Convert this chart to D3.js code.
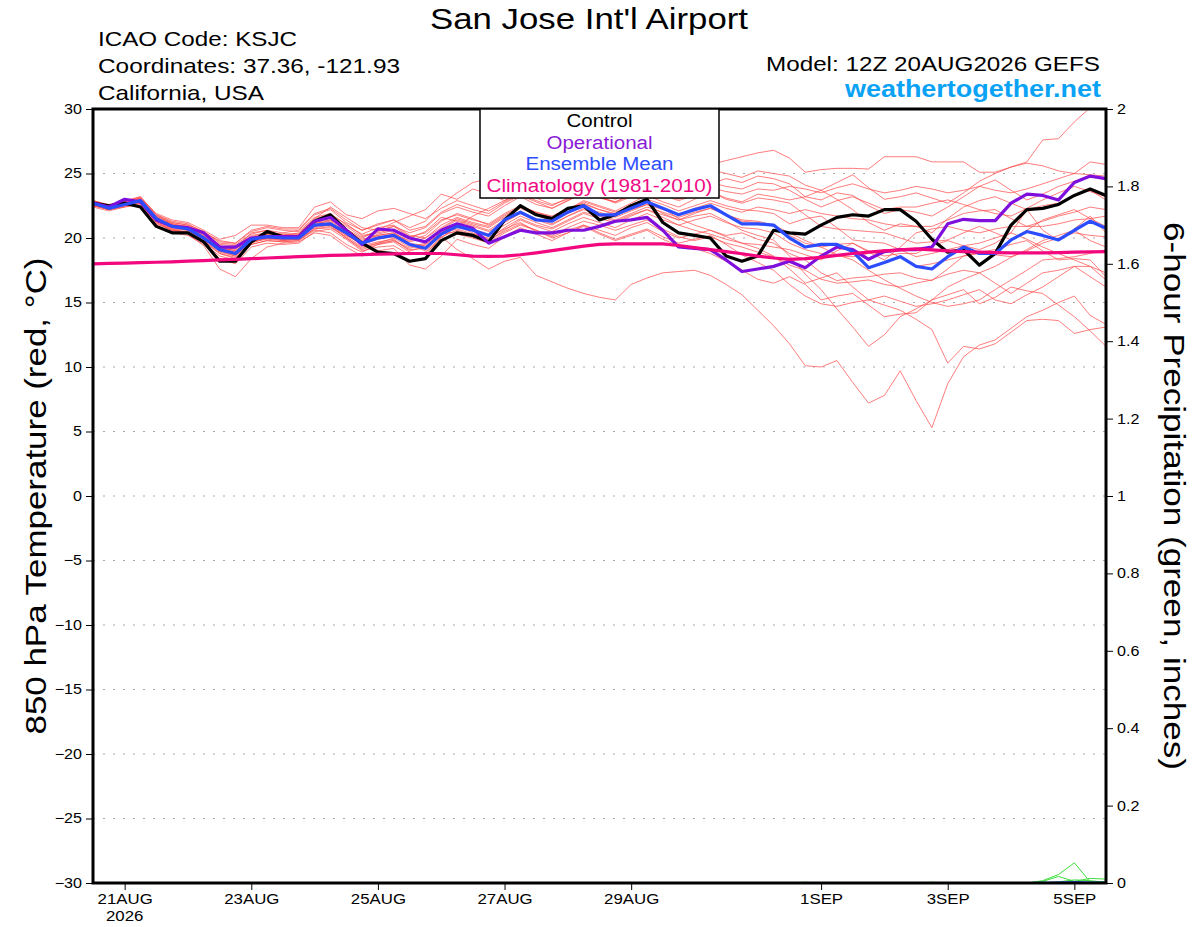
<!DOCTYPE html>
<html>
<head>
<meta charset="utf-8">
<script src="https://cdn.jsdelivr.net/npm/d3@7"></script>
<style>
  body { margin: 0; background: #fff; }
  text { font-family: "Liberation Sans", Arial, sans-serif; }
</style>
</head>
<body>
<div id="chart"></div>
<script>
// GEFS run 12Z 20AUG2026, 6-hourly out to 384 h
const runStart = Date.UTC(2026, 7, 20, 12);
const stepHours = 6;

const tickDays = ["2026-08-21", "2026-08-23", "2026-08-25", "2026-08-27", "2026-08-29", "2026-09-01", "2026-09-03", "2026-09-05"];
const tickLabels = ["21AUG", "23AUG", "25AUG", "27AUG", "29AUG", "1SEP", "3SEP", "5SEP"];
const tempTicks = [-30, -25, -20, -15, -10, -5, 0, 5, 10, 15, 20, 25, 30];
const precipTicks = [0, 0.2, 0.4, 0.6, 0.8, 1, 1.2, 1.4, 1.6, 1.8, 2];

const control = [22.7, 22.5, 22.7, 22.4, 20.9, 20.4, 20.4, 19.7, 18.2, 18.2, 19.7, 20.5, 20.1, 20.1, 21.3, 21.8, 20.6, 19.6, 18.9, 18.8,
  18.2, 18.4, 19.8, 20.4, 20.2, 19.7, 21.4, 22.5, 21.8, 21.5, 22.3, 22.5, 21.4, 21.8, 22.5, 23.0, 21.2, 20.4, 20.2, 20.0,
  18.6, 18.2, 18.6, 20.6, 20.4, 20.3, 21.0, 21.6, 21.8, 21.7, 22.2, 22.2, 21.3, 19.9, 18.9, 19.1, 17.9, 18.8, 21.0, 22.2,
  22.3, 22.6, 23.3, 23.8, 23.3];

const operational = [22.7, 22.4, 23.0, 22.8, 21.4, 20.9, 20.8, 20.4, 19.3, 19.3, 20.0, 20.1, 20.1, 20.1, 21.3, 21.6, 20.6, 19.5, 20.7, 20.6,
  20.0, 19.7, 20.6, 21.1, 20.75, 19.6, 20.1, 20.6, 20.4, 20.4, 20.6, 20.6, 20.9, 21.3, 21.4, 21.6, 20.6, 19.3, 19.2, 19.1,
  18.3, 17.4, 17.6, 17.8, 18.2, 17.7, 18.6, 19.3, 19.1, 18.35, 18.95, 19.1, 19.1, 19.3, 21.1, 21.45, 21.35, 21.35, 22.7, 23.4,
  23.3, 22.95, 24.3, 24.8, 24.6];

const ensMean = [22.7, 22.3, 22.6, 22.9, 21.5, 20.9, 20.7, 20.0, 19.1, 18.8, 19.9, 20.1, 20.0, 20.0, 21.0, 21.1, 20.4, 19.6, 20.0, 20.2,
  19.5, 19.2, 20.3, 20.9, 20.6, 20.2, 21.4, 22.0, 21.4, 21.3, 22.0, 22.5, 21.8, 21.8, 22.3, 22.8, 22.3, 21.8, 22.2, 22.5,
  21.8, 21.1, 21.1, 21.0, 20.0, 19.3, 19.5, 19.5, 18.95, 17.7, 18.1, 18.55, 17.8, 17.6, 18.55, 19.3, 18.8, 18.8, 19.85, 20.5,
  20.2, 19.85, 20.6, 21.3, 20.75];

const climatology = [18.0, 18.03, 18.06, 18.09, 18.12, 18.15, 18.2, 18.25, 18.3, 18.35, 18.4, 18.45, 18.5, 18.55, 18.6, 18.65, 18.68, 18.71, 18.74, 18.77,
  18.8, 18.8, 18.8, 18.7, 18.6, 18.58, 18.6, 18.7, 18.85, 19.02, 19.2, 19.37, 19.5, 19.54, 19.55, 19.55, 19.55, 19.42, 19.25, 19.1,
  18.95, 18.78, 18.6, 18.45, 18.35, 18.4, 18.5, 18.65, 18.8, 18.9, 19.0, 19.08, 19.15, 19.08, 19.0, 18.95, 18.9, 18.87, 18.85, 18.85,
  18.85, 18.87, 18.9, 18.92, 18.95];

const members = [
  [22.8, 22.4, 22.8, 23.1, 21.7, 21.2, 21.0, 20.5, 19.6, 19.5, 20.3, 20.6, 20.4, 20.6, 21.8, 22.2, 21.2, 20.6, 21.0, 21.4, 20.8, 21.3, 22.6,
   23.5, 24.3, 24.6, 24.5, 23.8, 23.2, 23.6, 24.4, 24.9, 25.3, 25.0, 24.6, 25.1, 25.3, 25.0, 25.4, 25.7, 26.0, 26.3, 26.6,
   26.8, 26.2, 25.1, 25.3, 25.4, 25.4, 25.35, 26.3, 26.3, 26.3, 25.9, 25.9, 25.9, 25.1, 25.1, 25.5, 25.9, 27.6, 27.7, 29.0, 30.1, 30.8],
  [22.6, 22.2, 22.5, 22.8, 21.3, 20.7, 20.6, 19.9, 19.0, 19.2, 20.4, 20.6, 20.2, 20.4, 21.5, 22.4, 21.6, 20.8, 20.6, 21.2, 21.7, 22.2, 23.4,
   23.0, 23.8, 23.4, 22.9, 23.5, 24.1, 23.7, 23.2, 23.8, 24.3, 23.9, 23.6, 24.2, 24.7, 24.4, 24.9, 25.3, 25.0, 24.7, 25.2,
   25.0, 24.8, 24.1, 23.7, 24.3, 24.9, 23.9, 23.0, 23.2, 23.5, 23.1, 22.7, 23.5, 24.4, 25.0, 25.5, 25.8, 25.6, 25.2, 25.0, 25.9, 25.7],
  [22.9, 22.5, 22.7, 23.0, 21.6, 21.0, 20.8, 20.2, 19.3, 19.0, 20.0, 20.3, 20.1, 20.2, 21.2, 21.6, 20.9, 20.1, 20.5, 20.9, 20.4, 20.8, 21.9,
   22.4, 22.0, 21.7, 22.5, 23.2, 22.6, 22.3, 22.9, 23.5, 23.1, 22.8, 23.4, 23.9, 23.5, 23.0, 23.6, 24.2, 24.6, 24.3, 24.8,
   24.6, 24.2, 23.2, 22.95, 23.5, 23.3, 22.5, 21.9, 22.2, 22.0, 21.7, 22.4, 23.2, 24.0, 24.5, 23.7, 22.95, 23.4, 24.0, 24.4, 24.8, 24.5],
  [22.5, 22.3, 22.6, 22.7, 21.2, 20.6, 20.5, 19.8, 18.9, 18.6, 19.7, 19.9, 19.8, 19.9, 20.8, 21.0, 20.2, 19.6, 20.1, 20.3, 19.8, 20.2, 21.3,
   21.9, 21.5, 21.0, 21.8, 22.4, 21.9, 21.6, 22.2, 22.9, 22.5, 22.1, 22.7, 23.3, 22.8, 22.4, 23.0, 23.6, 23.1, 22.8, 23.4,
   23.2, 22.95, 23.2, 23.7, 23.0, 22.2, 21.2, 20.6, 21.1, 20.9, 20.4, 21.5, 22.4, 22.9, 23.2, 22.7, 22.2, 22.5, 22.7, 23.3, 23.7, 22.95],
  [22.7, 22.4, 22.6, 22.9, 21.4, 20.8, 20.7, 20.1, 19.2, 18.9, 19.9, 20.2, 20.0, 20.1, 21.1, 21.3, 20.5, 19.8, 20.3, 20.6, 20.0, 20.5, 21.6,
   21.3, 20.9, 20.5, 21.2, 21.9, 21.4, 21.0, 21.7, 22.3, 22.0, 21.6, 22.1, 22.6, 22.2, 21.8, 22.3, 22.7, 22.3, 22.0, 22.4,
   22.2, 21.9, 22.2, 21.9, 21.7, 21.5, 21.4, 21.1, 20.9, 20.9, 20.9, 21.4, 21.9, 22.1, 22.2, 21.5, 20.9, 21.3, 21.7, 22.0, 22.4, 22.2],
  [22.6, 22.3, 22.5, 22.8, 21.5, 21.0, 20.9, 20.3, 19.5, 19.4, 20.2, 20.4, 20.3, 20.3, 21.3, 21.0, 20.0, 19.2, 19.6, 20.0, 19.3, 19.6, 20.5,
   20.9, 20.4, 19.9, 20.8, 21.5, 21.0, 20.7, 21.3, 21.9, 21.5, 21.2, 21.7, 22.2, 21.8, 21.4, 21.9, 22.3, 21.8, 21.3, 21.2,
   20.9, 20.2, 19.6, 19.3, 19.5, 19.6, 19.0, 18.6, 18.8, 18.8, 19.4, 19.8, 19.4, 19.1, 19.6, 20.4, 22.2, 20.6, 19.8, 20.7, 21.7, 20.4],
  [22.8, 22.5, 22.9, 23.2, 21.8, 21.3, 21.1, 20.4, 19.8, 19.6, 20.5, 20.8, 20.6, 20.5, 21.6, 21.9, 21.0, 20.3, 20.8, 21.0, 20.2, 20.0, 20.8,
   21.5, 21.1, 20.8, 21.6, 22.3, 21.8, 21.3, 21.9, 22.6, 22.2, 21.9, 22.5, 22.9, 22.3, 21.5, 21.0, 20.6, 20.2, 20.4, 19.9,
   19.6, 18.8, 18.3, 17.3, 16.7, 16.9, 17.0, 17.2, 17.3, 16.9, 16.7, 17.6, 18.6, 18.9, 19.1, 19.5, 19.8, 19.0, 18.3, 18.4, 18.3, 17.0],
  [22.4, 22.1, 22.4, 22.6, 21.0, 20.4, 20.2, 19.5, 18.4, 18.0, 19.3, 19.6, 19.5, 19.6, 20.5, 20.7, 19.9, 19.0, 19.3, 19.4, 18.7, 18.9, 19.8,
   20.3, 20.0, 19.6, 20.4, 21.0, 20.6, 20.2, 20.8, 21.3, 21.0, 20.6, 21.0, 21.4, 20.7, 20.1, 19.8, 20.1, 19.6, 19.3, 18.9,
   18.55, 17.9, 17.5, 16.8, 16.5, 16.6, 16.75, 16.4, 16.2, 16.5, 16.75, 17.2, 17.5, 17.3, 17.8, 18.5, 19.1, 19.8, 20.2, 20.6, 19.8, 19.3],
  [22.6, 22.2, 22.4, 22.7, 21.1, 20.6, 20.4, 19.6, 18.6, 18.3, 19.5, 19.8, 19.7, 19.8, 20.6, 20.4, 19.5, 18.9, 19.5, 19.8, 19.2, 19.5, 20.4,
   20.7, 20.3, 20.0, 20.7, 21.2, 20.5, 20.1, 20.6, 21.0, 20.4, 19.9, 20.3, 20.7, 20.1, 19.6, 19.9, 20.2, 19.5, 18.7, 18.1,
   17.5, 16.4, 15.5, 14.9, 14.7, 15.0, 15.2, 15.5, 15.1, 14.7, 14.9, 15.2, 15.6, 16.0, 15.2, 14.9, 15.6, 16.2, 17.0, 17.8, 17.8, 16.75],
  [22.7, 22.3, 22.5, 22.9, 21.6, 21.1, 20.8, 20.0, 19.0, 18.7, 19.8, 20.1, 19.9, 20.0, 21.0, 21.4, 20.7, 20.0, 20.6, 20.9, 20.1, 20.4, 21.4,
   21.8, 21.4, 21.1, 21.9, 22.5, 22.0, 21.7, 22.3, 22.7, 22.2, 21.8, 22.2, 22.6, 21.9, 21.4, 21.7, 21.9, 21.3, 20.6, 20.2,
   19.85, 18.6, 17.2, 16.0, 14.5, 13.1, 11.6, 12.5, 13.9, 14.5, 15.2, 15.6, 16.0, 14.9, 15.4, 16.2, 15.9, 15.7, 14.8, 13.9, 12.8, 11.6],
  [22.5, 22.2, 22.6, 22.8, 21.2, 20.5, 20.3, 19.4, 17.6, 17.0, 18.4, 19.3, 19.6, 19.7, 20.4, 20.2, 19.3, 18.6, 19.0, 19.2, 17.9, 17.6, 18.6,
   19.9, 19.5, 19.2, 20.1, 20.8, 20.3, 19.8, 20.4, 21.0, 20.6, 20.2, 20.8, 21.2, 20.5, 20.0, 20.3, 20.6, 20.1, 19.6, 19.2,
   18.6, 17.6, 16.5, 16.9, 17.3, 16.2, 15.2, 14.8, 14.4, 13.7, 12.9, 10.3, 11.6, 11.4, 11.8, 12.7, 13.6, 13.7, 13.6, 12.6, 12.9, 13.1],
  [22.6, 22.3, 22.7, 23.0, 21.4, 20.7, 20.4, 19.7, 18.8, 18.4, 19.6, 20.0, 19.8, 19.9, 20.9, 21.2, 20.3, 19.4, 19.7, 19.9, 19.0, 19.3, 20.1,
   19.1, 18.4, 17.6, 18.2, 18.5, 17.1, 16.6, 16.1, 15.7, 15.4, 15.2, 16.4, 16.9, 17.3, 17.4, 17.5, 17.1, 16.4, 15.6, 14.4,
   13.2, 11.8, 10.1, 10.0, 10.5, 8.8, 7.2, 7.8, 9.7, 7.4, 5.3, 8.7, 10.8, 11.7, 12.1, 13.0, 13.9, 14.4, 15.0, 15.5, 14.0, 13.3],
  [22.9, 22.6, 22.8, 23.1, 21.7, 21.1, 20.9, 20.3, 19.4, 19.1, 20.1, 20.4, 20.3, 20.3, 21.5, 21.8, 21.1, 20.2, 20.4, 20.7, 20.0, 19.7, 20.7,
   21.4, 21.0, 20.6, 21.4, 22.0, 21.5, 21.1, 21.7, 22.2, 21.8, 21.4, 21.9, 22.4, 22.0, 21.6, 22.0, 22.3, 21.8, 21.4, 21.3,
   21.0, 20.4, 19.8, 19.3, 18.7, 18.3, 17.5, 16.75, 16.1, 15.5, 15.0, 14.7, 14.9, 15.2, 16.0, 16.75, 17.5, 18.3, 18.4, 18.55, 18.8, 19.1],
  [22.7, 22.4, 22.7, 23.0, 21.6, 21.0, 20.6, 19.9, 19.1, 18.7, 19.8, 20.0, 19.9, 20.0, 20.9, 21.0, 20.2, 19.5, 19.9, 20.1, 19.5, 19.0, 20.0,
   20.9, 21.7, 22.3, 22.9, 23.6, 23.1, 22.6, 23.0, 23.6, 23.2, 22.7, 23.2, 23.8, 23.3, 22.9, 23.3, 23.6, 23.0, 22.7, 23.1,
   22.95, 22.7, 21.8, 20.9, 20.7, 20.6, 20.5, 20.4, 20.0, 19.6, 19.7, 19.85, 20.4, 20.9, 20.4, 19.85, 20.6, 21.4, 21.8, 22.2, 21.5, 20.9],
  [22.8, 22.4, 22.7, 23.1, 21.9, 21.4, 21.2, 20.6, 19.9, 20.2, 21.0, 21.0, 20.8, 20.8, 22.4, 22.8, 21.8, 21.5, 22.1, 22.3, 21.9, 21.5, 22.3,
   22.9, 22.5, 22.1, 22.8, 23.4, 22.9, 22.5, 23.1, 23.7, 23.4, 23.0, 23.5, 24.0, 23.6, 23.3, 23.8, 24.3, 24.0, 23.8, 24.3,
   24.2, 23.7, 23.0, 22.4, 22.9, 23.2, 22.7, 22.2, 22.4, 22.4, 22.7, 22.95, 22.6, 22.2, 21.9, 21.7, 22.3, 22.95, 23.5, 24.0, 23.6, 23.2],
  [22.6, 22.3, 22.6, 22.9, 21.5, 20.8, 20.6, 19.9, 19.0, 18.6, 19.7, 20.0, 19.9, 19.9, 20.7, 20.8, 20.1, 19.3, 19.6, 19.8, 19.1, 19.2, 20.3,
   20.5, 20.1, 19.8, 20.6, 21.4, 20.9, 20.5, 21.1, 21.6, 21.2, 20.8, 21.4, 21.9, 21.4, 21.0, 21.4, 21.7, 21.2, 20.8, 20.7,
   20.4, 19.6, 19.1, 18.8, 18.6, 18.55, 18.8, 19.1, 18.5, 17.8, 18.0, 18.3, 18.6, 18.8, 18.7, 18.55, 19.0, 19.6, 20.0, 20.4, 20.2, 20.1],
  [22.5, 22.2, 22.5, 22.8, 21.3, 20.6, 20.4, 19.8, 18.8, 18.5, 19.5, 19.8, 19.7, 19.8, 20.7, 20.9, 20.0, 19.1, 19.5, 19.7, 18.9, 18.7, 20.1,
   20.6, 20.2, 19.8, 20.5, 21.1, 20.6, 20.0, 20.4, 20.9, 20.3, 19.8, 20.2, 20.6, 19.9, 19.4, 19.2, 18.8, 18.2, 17.5, 16.8,
   16.5, 17.0, 16.4, 15.2, 15.5, 15.7, 14.8, 13.9, 14.1, 14.2, 15.2, 16.2, 16.8, 17.3, 16.5, 15.7, 16.5, 17.3, 17.5, 17.8, 17.0, 16.2],
  [22.7, 22.3, 22.6, 22.9, 21.5, 20.9, 20.8, 20.2, 19.3, 19.0, 20.0, 20.2, 20.0, 20.1, 21.0, 21.2, 20.4, 19.7, 20.2, 20.4, 19.7, 20.0, 21.0,
   21.6, 21.2, 20.9, 21.7, 22.4, 22.0, 21.6, 22.2, 22.8, 22.4, 22.0, 22.5, 23.0, 22.6, 22.1, 22.5, 22.9, 22.5, 22.2, 22.1,
   21.9, 21.1, 21.5, 21.7, 20.8, 19.85, 19.7, 19.6, 19.1, 18.55, 18.8, 19.1, 19.4, 19.6, 20.0, 20.4, 19.9, 19.3, 18.8, 18.3, 17.8, 17.3],
  [22.6, 22.2, 22.5, 22.8, 21.4, 20.9, 20.7, 20.1, 19.2, 18.9, 20.0, 20.3, 20.1, 20.1, 21.2, 21.4, 20.6, 19.9, 20.2, 20.4, 19.6, 19.4, 20.4,
   21.1, 20.7, 20.3, 21.0, 21.7, 21.2, 20.8, 21.4, 22.0, 21.7, 21.3, 21.8, 22.2, 21.6, 21.0, 20.6, 20.3, 19.9, 19.6, 19.5,
   19.3, 19.1, 18.7, 18.3, 19.0, 19.6, 18.9, 18.3, 19.3, 20.4, 20.7, 20.9, 20.6, 20.4, 20.7, 20.9, 20.9, 20.9, 21.1, 21.4, 21.5, 21.7],
  [22.9, 22.5, 22.8, 23.2, 21.8, 21.2, 21.0, 20.5, 19.7, 19.6, 20.6, 20.9, 20.7, 20.7, 21.9, 22.3, 21.4, 20.6, 21.1, 21.4, 20.6, 20.9, 22.0,
   22.6, 22.2, 21.9, 22.7, 23.3, 22.8, 22.3, 22.9, 23.5, 23.2, 22.8, 23.3, 23.9, 23.5, 23.1, 23.5, 23.9, 23.6, 23.4, 23.8,
   23.7, 24.0, 23.8, 23.5, 23.9, 24.2, 23.8, 23.5, 23.7, 24.0, 23.8, 23.5, 23.7, 24.0, 23.7, 23.5, 23.8, 24.2, 24.6, 25.0, 24.9, 24.8]
];

// 6-hour precipitation (inches); no value at analysis time
const precipMembers = [
  [null, 0, 0, 0, 0, 0, 0, 0, 0, 0, 0, 0, 0, 0, 0, 0, 0, 0, 0, 0, 0, 0, 0, 0, 0, 0, 0, 0, 0, 0, 0, 0,
   0, 0, 0, 0, 0, 0, 0, 0, 0, 0, 0, 0, 0, 0, 0, 0, 0, 0, 0, 0, 0, 0, 0, 0, 0, 0, 0, 0, 0.006, 0.022, 0.052, 0.003, 0.004],
  [null, 0, 0, 0, 0, 0, 0, 0, 0, 0, 0, 0, 0, 0, 0, 0, 0, 0, 0, 0, 0, 0, 0, 0, 0, 0, 0, 0, 0, 0, 0, 0,
   0, 0, 0, 0, 0, 0, 0, 0, 0, 0, 0, 0, 0, 0, 0, 0, 0, 0, 0, 0, 0, 0, 0, 0, 0, 0, 0, 0, 0.004, 0.017, 0.004, 0.012, 0.01],
  [null, 0, 0, 0, 0, 0, 0, 0, 0, 0, 0, 0, 0, 0, 0, 0, 0, 0, 0, 0, 0, 0, 0, 0, 0, 0, 0, 0, 0, 0, 0, 0,
   0, 0, 0, 0, 0, 0, 0, 0, 0, 0, 0, 0, 0, 0.002, 0, 0, 0, 0, 0.001, 0, 0, 0.002, 0, 0, 0, 0, 0, 0, 0, 0.003, 0.008, 0.006, 0.002]
];
const precipMean = [null, 0, 0, 0, 0, 0, 0, 0, 0, 0, 0, 0, 0, 0, 0, 0, 0, 0, 0, 0, 0, 0, 0, 0, 0, 0, 0, 0, 0, 0, 0, 0,
  0, 0, 0, 0, 0, 0, 0, 0, 0, 0, 0, 0, 0, 0, 0, 0, 0, 0, 0, 0, 0, 0, 0, 0, 0, 0, 0, 0, 0.001, 0.002, 0.003, 0.002, 0.001];

const width = 1200, height = 927;
const plotLeft = 93, plotRight = 1106, plotTop = 109, plotBottom = 883;

const times = control.map((d, i) => new Date(runStart + i * stepHours * 3600e3));

const x = d3.scaleUtc()
  .domain([times[0], times[times.length - 1]])
  .range([plotLeft, plotRight]);
const yT = d3.scaleLinear().domain([-30, 30]).range([plotBottom, plotTop]);
const yP = d3.scaleLinear().domain([0, 2]).range([plotBottom, plotTop]);

// the original lettering is wider than Liberation Sans, so stretch text to fit
function stretch(sel, factor) {
  sel.each(function() {
    const w = this.getComputedTextLength();
    d3.select(this).attr("textLength", w * factor).attr("lengthAdjust", "spacingAndGlyphs");
  });
}

const svg = d3.select("#chart")
  .append("svg")
  .attr("width", width)
  .attr("height", height)
  .style("background", "#fff");

svg.append("defs").append("clipPath")
  .attr("id", "plot-clip")
  .append("rect")
  .attr("x", plotLeft).attr("y", plotTop)
  .attr("width", plotRight - plotLeft).attr("height", plotBottom - plotTop);

// Dotted grid at temperature ticks
svg.append("g")
  .selectAll("line")
  .data(tempTicks.filter(t => t > -30 && t < 30))
  .enter()
  .append("line")
  .attr("x1", plotLeft).attr("x2", plotRight)
  .attr("y1", d => yT(d)).attr("y2", d => yT(d))
  .attr("stroke", "#a8a8a8")
  .attr("stroke-width", 1)
  .attr("stroke-dasharray", "2,8");

const plot = svg.append("g").attr("clip-path", "url(#plot-clip)");

const tempLine = d3.line()
  .x((d, i) => x(times[i]))
  .y(d => yT(d));

const precipLine = d3.line()
  .defined(d => d != null)
  .x((d, i) => x(times[i]))
  .y(d => yP(d));

// Ensemble members
plot.selectAll("path.member")
  .data(members)
  .enter()
  .append("path")
  .attr("class", "member")
  .attr("d", tempLine)
  .attr("fill", "none")
  .attr("stroke", "#ff4a4a")
  .attr("stroke-opacity", 0.8)
  .attr("stroke-width", 0.9);

// Precipitation
plot.selectAll("path.precip")
  .data(precipMembers)
  .enter()
  .append("path")
  .attr("class", "precip")
  .attr("d", precipLine)
  .attr("fill", "none")
  .attr("stroke", "#3ddc3d")
  .attr("stroke-width", 1);

plot.append("path")
  .attr("d", precipLine(precipMean))
  .attr("fill", "none")
  .attr("stroke", "#2b4cff")
  .attr("stroke-width", 1.5);

// Main lines
const mainLines = [
  { values: control, color: "#000000" },
  { values: operational, color: "#7f0fdc" },
  { values: ensMean, color: "#2b4cff" },
  { values: climatology, color: "#f2077f" }
];

plot.selectAll("path.main")
  .data(mainLines)
  .enter()
  .append("path")
  .attr("class", "main")
  .attr("d", d => tempLine(d.values))
  .attr("fill", "none")
  .attr("stroke", d => d.color)
  .attr("stroke-width", 3.2)
  .attr("stroke-linejoin", "round");

// Axes
const axisFont = g => g.attr("font-family", "Liberation Sans, Arial, sans-serif").attr("font-size", 14);

svg.append("g")
  .attr("transform", `translate(${plotLeft},0)`)
  .call(d3.axisLeft(yT).tickValues(tempTicks).tickSize(7).tickPadding(4))
  .call(axisFont)
  .call(g => g.select(".domain").remove())
  .call(g => stretch(g.selectAll("text"), 1.15));

svg.append("g")
  .attr("transform", `translate(${plotRight},0)`)
  .call(d3.axisRight(yP).tickValues(precipTicks).tickSize(7).tickPadding(4).tickFormat(d3.format("~g")))
  .call(axisFont)
  .call(g => g.select(".domain").remove())
  .call(g => stretch(g.selectAll("text"), 1.15));

const tickDates = tickDays.map(d => new Date(d + "T00:00:00Z"));
svg.append("g")
  .attr("transform", `translate(0,${plotBottom})`)
  .call(d3.axisBottom(x).tickValues(tickDates).tickSize(7).tickPadding(4).tickFormat((d, i) => tickLabels[i]))
  .call(axisFont)
  .call(g => g.select(".domain").remove())
  .call(g => stretch(g.selectAll("text"), 1.2));

svg.append("text")
  .attr("x", x(tickDates[0]))
  .attr("y", 921)
  .attr("text-anchor", "middle")
  .style("font-size", "14px")
  .text("2026")
  .call(t => stretch(t, 1.2));

// Frame
svg.append("rect")
  .attr("x", plotLeft).attr("y", plotTop)
  .attr("width", plotRight - plotLeft).attr("height", plotBottom - plotTop)
  .attr("fill", "none")
  .attr("stroke", "#000")
  .attr("stroke-width", 3);

// Legend
const legendItems = [
  { label: "Control", color: "#000000", w: 66 },
  { label: "Operational", color: "#8a1ad6", w: 106 },
  { label: "Ensemble Mean", color: "#2c4cff", w: 148 },
  { label: "Climatology (1981-2010)", color: "#ee0a84", w: 226 }
];
const legend = svg.append("g");
legend.append("rect")
  .attr("x", 480).attr("y", plotTop)
  .attr("width", 239).attr("height", 89)
  .attr("fill", "#fff")
  .attr("stroke", "#000")
  .attr("stroke-width", 1.5);
legend.selectAll("text")
  .data(legendItems)
  .enter()
  .append("text")
  .attr("x", 599.5)
  .attr("y", (d, i) => 127 + i * 21.6)
  .attr("text-anchor", "middle")
  .attr("textLength", d => d.w)
  .attr("lengthAdjust", "spacingAndGlyphs")
  .style("font-size", "18px")
  .style("fill", d => d.color)
  .text(d => d.label);

// Titles
const headerTexts = [
  { text: "San Jose Int'l Airport", x: 589, y: 29, anchor: "middle", size: 30, w: 318 },
  { text: "ICAO Code: KSJC", x: 98, y: 46, anchor: "start", size: 21, w: 199 },
  { text: "Coordinates: 37.36, -121.93", x: 98, y: 73, anchor: "start", size: 21, w: 302 },
  { text: "California, USA", x: 98, y: 99.5, anchor: "start", size: 21, w: 166 },
  { text: "Model: 12Z 20AUG2026 GEFS", x: 1100, y: 71, anchor: "end", size: 21, w: 334 }
];
svg.selectAll("text.header")
  .data(headerTexts)
  .enter()
  .append("text")
  .attr("class", "header")
  .attr("x", d => d.x)
  .attr("y", d => d.y)
  .attr("text-anchor", d => d.anchor)
  .attr("textLength", d => d.w)
  .attr("lengthAdjust", "spacingAndGlyphs")
  .style("font-size", d => d.size + "px")
  .text(d => d.text);

svg.append("text")
  .attr("x", 1101).attr("y", 97)
  .attr("text-anchor", "end")
  .attr("textLength", 256)
  .attr("lengthAdjust", "spacingAndGlyphs")
  .style("font-size", "24px")
  .style("font-weight", "bold")
  .style("fill", "#09a2f4")
  .text("weathertogether.net");

svg.append("text")
  .attr("transform", `translate(46,${(plotTop + plotBottom) / 2}) rotate(-90)`)
  .attr("text-anchor", "middle")
  .attr("textLength", 477)
  .attr("lengthAdjust", "spacingAndGlyphs")
  .style("font-size", "30px")
  .text("850 hPa Temperature (red, °C)");

svg.append("text")
  .attr("transform", `translate(1164,${(plotTop + plotBottom) / 2}) rotate(90)`)
  .attr("text-anchor", "middle")
  .attr("textLength", 548)
  .attr("lengthAdjust", "spacingAndGlyphs")
  .style("font-size", "30px")
  .text("6-hour Precipitation (green, inches)");
</script>
</body>
</html>
